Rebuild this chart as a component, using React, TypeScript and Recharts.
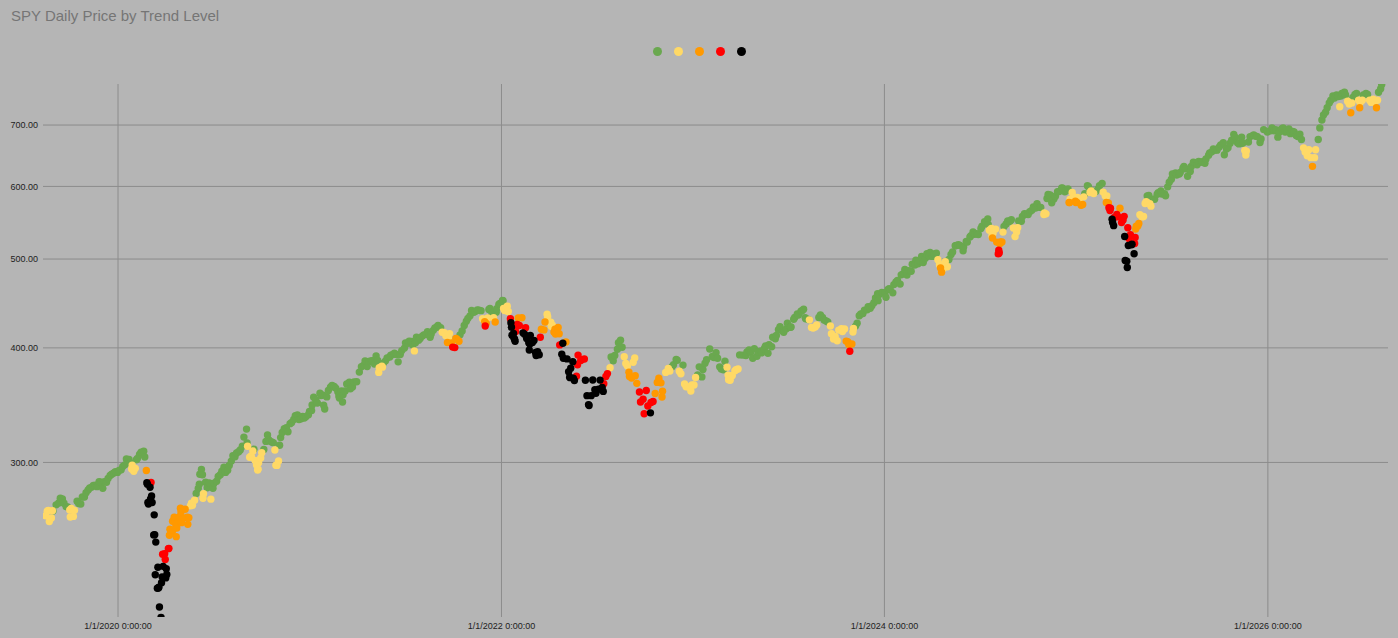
import React from "react";
import {
  ScatterChart,
  Scatter,
  XAxis,
  YAxis,
  CartesianGrid,
  Legend,
} from "recharts";

// [month-day, adjusted close, trend level 0..4]
type Row = [string, number, number];

const levelColors = ["#6aa84f", "#ffd966", "#ff9900", "#ff0000", "#000000"];
const levelNames = ["Level 0", "Level 1", "Level 2", "Level 3", "Level 4"];

const rows2019: Row[] = [
  ["08-16", 262.3, 1], ["08-19", 265.4, 1], ["08-21", 266.0, 1], ["08-23", 258.6, 1],
  ["08-27", 261.0, 1], ["08-29", 265.7, 1], ["08-30", 265.5, 0], ["09-05", 269.7, 0],
  ["09-10", 271.0, 0], ["09-13", 274.2, 0], ["09-17", 273.7, 0], ["09-20", 270.8, 0],
  ["09-24", 268.5, 0], ["09-27", 268.2, 0], ["10-01", 266.3, 1], ["10-02", 261.6, 1],
  ["10-04", 267.3, 1], ["10-08", 262.0, 1], ["10-10", 266.0, 1], ["10-15", 272.1, 0],
  ["10-18", 270.6, 0], ["10-22", 270.3, 0], ["10-25", 275.1, 0], ["10-29", 275.0, 0],
  ["11-01", 278.0, 0], ["11-05", 279.9, 0], ["11-08", 281.4, 0], ["11-12", 282.0, 0],
  ["11-15", 283.1, 0], ["11-19", 283.3, 0], ["11-22", 282.3, 0], ["11-26", 285.8, 0],
  ["11-29", 285.4, 0], ["12-03", 281.1, 0], ["12-06", 285.9, 0], ["12-10", 285.4, 0],
  ["12-13", 288.1, 0], ["12-17", 290.4, 0], ["12-20", 291.2, 0], ["12-24", 292.1, 0],
  ["12-27", 293.2, 0], ["12-31", 292.6, 0],
];

const rows2020: Row[] = [
  ["01-03", 294.0, 0], ["01-07", 294.6, 0], ["01-10", 297.0, 0], ["01-14", 298.2, 0],
  ["01-17", 302.7, 0], ["01-22", 302.3, 0], ["01-24", 299.8, 0], ["01-27", 295.1, 1],
  ["01-28", 298.0, 1], ["01-31", 293.4, 1], ["02-03", 295.6, 1], ["02-05", 302.0, 0],
  ["02-07", 303.0, 0], ["02-11", 306.0, 0], ["02-14", 307.9, 0], ["02-19", 308.6, 0],
  ["02-21", 304.1, 0], ["02-24", 294.0, 2], ["02-25", 285.1, 4], ["02-26", 284.1, 4],
  ["02-27", 271.3, 4], ["02-28", 270.2, 4], ["03-02", 281.9, 4], ["03-03", 273.8, 4],
  ["03-04", 285.3, 3], ["03-05", 275.8, 4], ["03-06", 271.3, 4], ["03-09", 250.1, 4],
  ["03-10", 263.0, 4], ["03-11", 250.2, 4], ["03-12", 226.3, 4], ["03-13", 245.6, 4],
  ["03-16", 218.7, 4], ["03-17", 230.6, 4], ["03-18", 218.9, 4], ["03-19", 219.3, 4],
  ["03-20", 208.7, 4], ["03-23", 203.3, 4], ["03-24", 221.8, 4], ["03-25", 225.1, 4],
  ["03-26", 238.2, 3], ["03-27", 231.1, 4], ["03-30", 238.6, 3], ["03-31", 235.1, 3],
  ["04-01", 224.5, 4], ["04-02", 229.7, 4], ["04-03", 226.4, 4], ["04-06", 241.6, 3],
  ["04-07", 241.8, 3], ["04-08", 249.9, 2], ["04-09", 253.7, 2], ["04-13", 251.4, 2],
  ["04-14", 258.8, 2], ["04-15", 253.3, 2], ["04-17", 261.4, 2], ["04-20", 256.8, 2],
  ["04-21", 249.0, 2], ["04-22", 254.5, 2], ["04-24", 258.1, 2], ["04-27", 261.8, 2],
  ["04-29", 267.4, 2], ["04-30", 264.9, 2], ["05-01", 257.9, 2], ["05-05", 261.0, 2],
  ["05-08", 266.7, 2], ["05-12", 261.4, 2], ["05-13", 256.8, 2], ["05-15", 261.1, 2],
  ["05-18", 269.0, 1], ["05-20", 270.8, 1], ["05-22", 269.4, 1], ["05-26", 272.8, 1],
  ["05-29", 277.5, 0], ["06-02", 281.0, 0], ["06-04", 284.0, 0], ["06-05", 291.2, 0],
  ["06-08", 294.8, 0], ["06-10", 290.9, 0], ["06-11", 274.2, 1], ["06-12", 277.4, 1],
  ["06-16", 285.4, 0], ["06-19", 281.5, 0], ["06-23", 285.0, 0], ["06-26", 273.6, 1],
  ["06-30", 281.2, 0], ["07-02", 284.8, 0], ["07-07", 286.2, 0], ["07-10", 289.6, 0],
  ["07-14", 290.9, 0], ["07-17", 293.4, 0], ["07-21", 296.4, 0], ["07-24", 292.6, 0],
  ["07-28", 294.2, 0], ["07-31", 297.8, 0], ["08-04", 301.0, 0], ["08-07", 305.1, 0],
  ["08-11", 304.3, 0], ["08-14", 307.2, 0], ["08-18", 308.2, 0], ["08-21", 309.6, 0],
  ["08-25", 312.5, 0], ["08-28", 319.7, 0], ["09-02", 326.2, 0], ["09-03", 315.0, 0],
  ["09-04", 312.4, 1], ["09-08", 303.9, 1], ["09-10", 304.5, 1], ["09-11", 304.7, 1],
  ["09-14", 308.7, 1], ["09-16", 310.2, 0], ["09-18", 301.6, 1], ["09-21", 298.2, 1],
  ["09-23", 294.3, 1], ["09-24", 295.0, 1], ["09-25", 299.8, 1], ["09-29", 303.4, 1],
  ["10-01", 307.4, 1], ["10-05", 309.9, 0], ["10-09", 316.3, 0], ["10-12", 321.4, 0],
  ["10-14", 317.7, 0], ["10-16", 316.7, 0], ["10-20", 315.9, 0], ["10-23", 315.3, 0],
  ["10-26", 309.5, 1], ["10-28", 297.9, 1], ["10-30", 297.8, 1], ["11-02", 301.1, 1],
  ["11-04", 313.2, 0], ["11-06", 319.3, 0], ["11-09", 323.4, 0], ["11-13", 326.6, 0],
  ["11-17", 327.3, 0], ["11-20", 324.1, 0], ["11-24", 330.7, 0], ["11-27", 331.7, 0],
  ["12-01", 334.2, 0], ["12-04", 337.3, 0], ["12-08", 338.1, 0], ["12-11", 334.1, 0],
  ["12-15", 334.7, 0], ["12-18", 336.7, 0], ["12-21", 335.4, 0], ["12-24", 336.5, 0],
  ["12-29", 338.2, 0], ["12-31", 341.0, 0],
];

const rows2021: Row[] = [
  ["01-04", 341.9, 0], ["01-05", 346.5, 0], ["01-08", 353.4, 0], ["01-12", 350.9, 0],
  ["01-15", 348.3, 0], ["01-20", 356.9, 0], ["01-22", 354.9, 0], ["01-26", 355.3, 0],
  ["01-27", 346.3, 0], ["01-29", 343.1, 0], ["02-02", 353.7, 0], ["02-05", 359.4, 0],
  ["02-09", 362.4, 0], ["02-12", 364.0, 0], ["02-16", 363.1, 0], ["02-19", 361.6, 0],
  ["02-23", 358.3, 0], ["02-25", 354.4, 0], ["02-26", 352.6, 0], ["03-02", 359.0, 0],
  ["03-04", 349.2, 0], ["03-05", 355.6, 0], ["03-09", 358.9, 0], ["03-12", 365.3, 0],
  ["03-17", 367.0, 0], ["03-19", 361.0, 0], ["03-23", 362.5, 0], ["03-26", 367.1, 0],
  ["03-31", 367.4, 0], ["04-05", 376.4, 0], ["04-09", 381.5, 0], ["04-13", 382.8, 0],
  ["04-16", 387.0, 0], ["04-20", 381.8, 0], ["04-23", 386.6, 0], ["04-27", 387.0, 0],
  ["04-30", 387.4, 0], ["05-04", 384.2, 0], ["05-07", 392.0, 0], ["05-10", 387.7, 0],
  ["05-12", 376.1, 1], ["05-13", 380.6, 1], ["05-18", 382.1, 1], ["05-19", 381.1, 1],
  ["05-21", 385.0, 0], ["05-25", 387.2, 0], ["05-28", 389.9, 0], ["06-02", 391.0, 0],
  ["06-04", 392.8, 0], ["06-08", 393.4, 0], ["06-11", 394.7, 0], ["06-15", 393.3, 0],
  ["06-18", 386.2, 0], ["06-22", 393.4, 0], ["06-25", 397.3, 0], ["06-30", 399.8, 0],
  ["07-02", 405.1, 0], ["07-07", 404.6, 0], ["07-09", 406.8, 0], ["07-13", 406.4, 0],
  ["07-16", 402.9, 0], ["07-19", 397.0, 1], ["07-21", 405.1, 0], ["07-23", 410.9, 0],
  ["07-27", 407.8, 0], ["07-30", 409.6, 0], ["08-03", 412.0, 0], ["08-06", 413.3, 0],
  ["08-10", 413.8, 0], ["08-13", 416.5, 0], ["08-18", 410.9, 0], ["08-20", 414.1, 0],
  ["08-24", 418.0, 0], ["08-27", 420.5, 0], ["08-31", 421.6, 0], ["09-02", 423.3, 0],
  ["09-07", 420.9, 0], ["09-10", 416.0, 1], ["09-14", 415.5, 1], ["09-17", 412.3, 1],
  ["09-20", 405.4, 2], ["09-22", 410.0, 1], ["09-24", 414.6, 1], ["09-28", 405.1, 2],
  ["09-30", 400.8, 3], ["10-04", 400.3, 3], ["10-06", 409.7, 2], ["10-08", 408.9, 2],
  ["10-12", 406.7, 2], ["10-14", 413.3, 0], ["10-18", 417.4, 0], ["10-22", 423.1, 0],
  ["10-26", 427.7, 0], ["10-29", 430.8, 0], ["11-02", 433.5, 0], ["11-05", 439.5, 0],
  ["11-09", 437.4, 0], ["11-12", 438.3, 0], ["11-16", 440.0, 0], ["11-19", 439.8, 0],
  ["11-23", 439.2, 0], ["11-26", 430.5, 1], ["11-30", 427.3, 2], ["12-01", 422.6, 3],
  ["12-03", 425.3, 2], ["12-06", 431.3, 1], ["12-08", 440.4, 0], ["12-10", 441.6, 0],
  ["12-14", 435.5, 0], ["12-16", 437.3, 0], ["12-17", 431.4, 1], ["12-20", 426.8, 2],
  ["12-22", 437.5, 0], ["12-23", 441.4, 0], ["12-27", 446.0, 0], ["12-29", 447.3, 0],
  ["12-31", 445.5, 0],
];

const rows2022: Row[] = [
  ["01-03", 450.5, 0], ["01-04", 450.3, 0], ["01-05", 441.7, 1], ["01-07", 439.5, 1],
  ["01-10", 439.0, 1], ["01-12", 444.2, 1], ["01-14", 438.2, 1], ["01-18", 430.5, 3],
  ["01-19", 426.0, 4], ["01-20", 421.3, 4], ["01-21", 413.0, 4], ["01-24", 414.8, 4],
  ["01-25", 409.7, 4], ["01-26", 408.7, 4], ["01-27", 406.7, 4], ["01-28", 416.8, 3],
  ["01-31", 424.3, 3], ["02-02", 431.3, 2], ["02-04", 423.1, 3], ["02-09", 431.5, 2],
  ["02-11", 415.4, 4], ["02-14", 414.0, 4], ["02-16", 420.7, 3], ["02-18", 409.5, 4],
  ["02-22", 405.1, 4], ["02-23", 397.9, 4], ["02-24", 403.9, 4], ["02-25", 412.8, 4],
  ["03-01", 405.5, 4], ["03-04", 407.5, 4], ["03-07", 395.5, 4], ["03-08", 392.5, 4],
  ["03-11", 396.1, 4], ["03-14", 393.2, 4], ["03-16", 410.8, 3], ["03-18", 419.2, 2],
  ["03-23", 418.5, 2], ["03-25", 426.9, 2], ["03-29", 435.2, 1], ["03-30", 432.6, 1],
  ["04-01", 427.1, 1], ["04-05", 426.7, 1], ["04-06", 422.4, 1], ["04-08", 423.4, 1],
  ["04-11", 416.2, 2], ["04-13", 419.2, 2], ["04-14", 414.1, 2], ["04-19", 421.0, 2],
  ["04-21", 414.4, 2], ["04-22", 403.0, 3], ["04-26", 393.6, 4], ["04-28", 404.7, 4],
  ["04-29", 389.8, 4], ["05-04", 405.9, 2], ["05-06", 389.1, 4], ["05-09", 376.7, 4],
  ["05-11", 371.5, 4], ["05-12", 371.2, 4], ["05-13", 380.0, 4], ["05-17", 386.3, 4],
  ["05-18", 370.7, 4], ["05-20", 368.6, 4], ["05-24", 372.6, 3], ["05-26", 383.4, 3],
  ["05-27", 392.8, 3], ["06-01", 387.5, 3], ["06-03", 388.4, 3], ["06-08", 389.0, 3],
  ["06-10", 368.8, 4], ["06-13", 354.8, 4], ["06-16", 346.9, 4], ["06-17", 346.1, 4],
  ["06-21", 354.8, 4], ["06-24", 369.0, 4], ["06-28", 360.1, 4], ["06-30", 356.9, 4],
  ["07-05", 360.6, 4], ["07-08", 368.9, 4], ["07-12", 362.2, 4], ["07-14", 358.6, 4],
  ["07-15", 365.5, 3], ["07-19", 372.3, 3], ["07-22", 375.0, 3], ["07-27", 380.6, 1],
  ["07-29", 391.0, 0], ["08-02", 387.2, 0], ["08-05", 392.4, 0], ["08-10", 398.6, 0],
  ["08-12", 405.3, 0], ["08-16", 407.8, 0], ["08-19", 400.6, 0], ["08-23", 391.3, 1],
  ["08-26", 384.6, 1], ["08-29", 382.1, 1], ["09-01", 376.2, 2], ["09-02", 372.2, 2],
  ["09-06", 370.8, 2], ["09-09", 385.9, 1], ["09-12", 390.0, 1], ["09-13", 373.0, 2],
  ["09-16", 365.9, 2], ["09-21", 358.1, 3], ["09-23", 349.2, 3], ["09-28", 351.6, 3],
  ["09-30", 339.0, 3], ["10-04", 359.4, 3], ["10-07", 345.7, 3], ["10-12", 339.8, 4],
  ["10-13", 348.8, 3], ["10-17", 349.6, 3], ["10-21", 356.7, 2], ["10-25", 366.8, 2],
  ["10-28", 370.7, 2], ["11-01", 366.4, 2], ["11-03", 353.6, 2], ["11-04", 358.7, 2],
  ["11-10", 376.1, 1], ["11-15", 379.8, 1], ["11-18", 377.4, 1], ["11-22", 381.5, 0],
  ["11-25", 383.4, 0], ["11-30", 388.5, 0], ["12-02", 387.8, 0], ["12-06", 377.3, 1],
  ["12-09", 374.8, 1], ["12-13", 383.1, 0], ["12-16", 365.3, 1], ["12-19", 362.7, 1],
  ["12-22", 362.8, 1], ["12-28", 359.0, 1], ["12-30", 364.5, 1],
];

const rows2023: Row[] = [
  ["01-03", 364.4, 1], ["01-06", 371.4, 1], ["01-10", 373.8, 0], ["01-13", 381.4, 0],
  ["01-18", 371.9, 0], ["01-20", 378.9, 0], ["01-24", 384.9, 0], ["01-27", 388.2, 0],
  ["02-02", 398.9, 0], ["02-07", 391.5, 0], ["02-10", 390.5, 0], ["02-14", 395.1, 0],
  ["02-17", 389.7, 0], ["02-21", 381.4, 0], ["02-24", 379.3, 0], ["02-28", 378.6, 0],
  ["03-03", 386.8, 0], ["03-07", 381.1, 1], ["03-09", 373.6, 1], ["03-10", 369.3, 1],
  ["03-13", 368.8, 1], ["03-15", 372.5, 1], ["03-17", 373.2, 1], ["03-22", 377.6, 1],
  ["03-24", 378.7, 1], ["03-28", 379.4, 1], ["03-31", 393.0, 0], ["04-06", 392.8, 0],
  ["04-12", 392.4, 0], ["04-14", 396.0, 0], ["04-18", 398.0, 0], ["04-21", 395.7, 0],
  ["04-25", 389.8, 0], ["04-28", 399.3, 0], ["05-03", 391.7, 0], ["05-05", 396.1, 0],
  ["05-10", 396.8, 0], ["05-12", 395.1, 0], ["05-17", 399.1, 0], ["05-19", 401.9, 0],
  ["05-24", 394.6, 0], ["05-26", 403.2, 0], ["05-31", 401.1, 0], ["06-02", 410.8, 0],
  ["06-07", 409.2, 0], ["06-09", 412.7, 0], ["06-13", 418.7, 0], ["06-16", 421.9, 0],
  ["06-21", 417.3, 0], ["06-23", 415.9, 0], ["06-28", 419.6, 0], ["06-30", 425.5, 0],
  ["07-06", 421.2, 0], ["07-07", 421.6, 0], ["07-12", 429.8, 0], ["07-14", 431.8, 0],
  ["07-19", 435.7, 0], ["07-21", 434.5, 0], ["07-26", 438.5, 0], ["07-28", 439.1, 0],
  ["07-31", 440.8, 0], ["08-03", 431.6, 0], ["08-04", 430.3, 0], ["08-09", 429.5, 0],
  ["08-11", 429.2, 1], ["08-15", 421.1, 1], ["08-18", 420.4, 1], ["08-22", 421.5, 1],
  ["08-25", 423.7, 1], ["08-29", 431.8, 0], ["09-01", 434.5, 0], ["09-05", 431.9, 0],
  ["09-08", 429.0, 0], ["09-12", 428.0, 0], ["09-15", 427.0, 0], ["09-20", 422.6, 1],
  ["09-22", 414.5, 1], ["09-26", 409.1, 1], ["09-29", 411.7, 1], ["10-03", 407.3, 1],
  ["10-06", 418.3, 1], ["10-11", 419.8, 1], ["10-13", 416.8, 1], ["10-17", 419.5, 1],
  ["10-20", 406.9, 2], ["10-23", 406.2, 2], ["10-25", 403.4, 2], ["10-27", 396.7, 3],
  ["10-31", 404.0, 2], ["11-02", 416.2, 1], ["11-03", 419.9, 1], ["11-07", 422.5, 0],
  ["11-10", 425.6, 0], ["11-14", 433.6, 0], ["11-17", 435.5, 0], ["11-21", 436.1, 0],
  ["11-24", 439.8, 0], ["11-29", 440.1, 0], ["12-01", 443.5, 0], ["12-05", 441.9, 0],
  ["12-08", 444.6, 0], ["12-12", 448.0, 0], ["12-15", 453.4, 0], ["12-19", 458.2, 0],
  ["12-20", 450.4, 0], ["12-22", 457.5, 0], ["12-27", 459.8, 0], ["12-29", 459.2, 0],
];

const rows2024: Row[] = [
  ["01-02", 459.4, 0], ["01-04", 454.2, 0], ["01-08", 463.1, 0], ["01-10", 464.2, 0],
  ["01-12", 463.3, 0], ["01-17", 459.3, 0], ["01-19", 468.9, 0], ["01-23", 471.9, 0],
  ["01-26", 473.8, 0], ["01-31", 469.5, 0], ["02-02", 480.5, 0], ["02-06", 482.0, 0],
  ["02-09", 487.2, 0], ["02-13", 480.2, 0], ["02-16", 485.5, 0], ["02-21", 484.8, 0],
  ["02-23", 493.6, 0], ["02-28", 492.5, 0], ["03-01", 498.5, 0], ["03-05", 494.0, 0],
  ["03-08", 497.4, 0], ["03-12", 503.2, 0], ["03-15", 495.6, 0], ["03-19", 500.9, 0],
  ["03-22", 506.6, 0], ["03-26", 503.6, 0], ["03-28", 508.4, 0], ["04-02", 503.3, 0],
  ["04-05", 506.5, 0], ["04-09", 507.4, 0], ["04-12", 499.1, 1], ["04-15", 492.8, 1],
  ["04-16", 492.6, 1], ["04-17", 489.0, 2], ["04-19", 483.8, 2], ["04-22", 488.2, 1],
  ["04-24", 493.9, 1], ["04-26", 496.6, 1], ["04-30", 490.4, 1], ["05-03", 499.5, 0],
  ["05-07", 505.8, 0], ["05-10", 508.9, 0], ["05-15", 517.0, 0], ["05-17", 517.3, 0],
  ["05-21", 518.4, 0], ["05-24", 517.3, 0], ["05-30", 510.4, 0], ["05-31", 515.2, 0],
  ["06-05", 522.5, 0], ["06-07", 521.7, 0], ["06-12", 528.6, 0], ["06-14", 530.3, 0],
  ["06-18", 535.1, 0], ["06-21", 532.0, 0], ["06-25", 533.0, 0], ["06-28", 531.7, 0],
  ["07-03", 539.9, 0], ["07-05", 543.0, 0], ["07-10", 549.3, 0], ["07-12", 548.2, 0],
  ["07-16", 553.0, 0], ["07-17", 545.1, 0], ["07-19", 537.5, 1], ["07-23", 540.0, 1],
  ["07-24", 529.9, 1], ["07-25", 527.1, 2], ["07-26", 533.0, 1], ["07-31", 539.0, 1],
  ["08-02", 521.7, 2], ["08-05", 506.5, 3], ["08-06", 511.2, 3], ["08-07", 507.8, 3],
  ["08-08", 519.5, 2], ["08-09", 521.8, 2], ["08-12", 522.0, 2], ["08-14", 535.0, 1],
  ["08-16", 542.7, 0], ["08-20", 546.0, 0], ["08-23", 550.3, 0], ["08-27", 549.3, 0],
  ["08-30", 551.8, 0], ["09-03", 540.5, 1], ["09-06", 529.0, 1], ["09-09", 535.0, 1],
  ["09-11", 541.0, 1], ["09-13", 550.2, 0], ["09-18", 549.6, 0], ["09-20", 556.3, 0],
  ["09-24", 560.2, 0], ["09-27", 559.5, 0], ["10-01", 559.0, 0], ["10-04", 563.2, 0],
  ["10-08", 565.0, 0], ["10-11", 569.7, 0], ["10-15", 568.2, 0], ["10-18", 574.6, 0],
  ["10-23", 569.3, 0], ["10-25", 569.2, 0], ["10-31", 559.0, 1], ["11-01", 561.3, 1],
  ["11-04", 560.1, 1], ["11-06", 582.0, 0], ["11-08", 588.0, 0], ["11-12", 587.4, 0],
  ["11-15", 575.8, 0], ["11-19", 581.4, 0], ["11-22", 585.4, 0], ["11-26", 592.0, 0],
  ["11-29", 592.3, 0], ["12-04", 597.7, 0], ["12-06", 597.5, 0], ["12-10", 592.0, 0],
  ["12-13", 593.9, 0], ["12-16", 596.4, 0], ["12-18", 576.3, 2], ["12-19", 576.1, 2],
  ["12-20", 581.1, 1], ["12-24", 591.1, 1], ["12-27", 584.9, 1], ["12-30", 578.2, 2],
  ["12-31", 576.1, 2],
];

const rows2025: Row[] = [
  ["01-02", 576.5, 2], ["01-03", 583.7, 1], ["01-07", 580.4, 1], ["01-10", 572.4, 2],
  ["01-13", 573.3, 2], ["01-15", 584.5, 1], ["01-17", 589.2, 0], ["01-22", 601.2, 0],
  ["01-24", 599.5, 0], ["01-27", 591.0, 1], ["01-29", 593.4, 1], ["01-31", 593.4, 0],
  ["02-03", 589.4, 1], ["02-07", 592.4, 0], ["02-11", 596.0, 0], ["02-14", 601.2, 0],
  ["02-19", 604.4, 0], ["02-21", 591.5, 1], ["02-25", 585.9, 1], ["02-27", 576.4, 2],
  ["02-28", 585.9, 1], ["03-03", 575.6, 2], ["03-04", 568.8, 3], ["03-06", 564.7, 3],
  ["03-07", 567.9, 3], ["03-10", 552.7, 4], ["03-11", 548.1, 4], ["03-13", 543.7, 4],
  ["03-14", 554.9, 3], ["03-19", 559.2, 3], ["03-21", 556.1, 3], ["03-25", 568.0, 2],
  ["03-28", 547.9, 3], ["03-31", 551.6, 3], ["04-02", 556.6, 3], ["04-03", 529.2, 4],
  ["04-04", 498.2, 4], ["04-07", 497.3, 4], ["04-08", 489.5, 4], ["04-09", 540.9, 3],
  ["04-10", 517.2, 4], ["04-11", 526.5, 3], ["04-14", 531.6, 3], ["04-16", 518.3, 4],
  ["04-17", 519.0, 4], ["04-21", 506.7, 4], ["04-22", 519.9, 3], ["04-23", 527.9, 3],
  ["04-24", 539.0, 2], ["04-25", 542.9, 2], ["04-28", 543.1, 2], ["04-30", 546.8, 2],
  ["05-02", 558.8, 1], ["05-06", 555.8, 1], ["05-09", 556.4, 1], ["05-12", 574.8, 1],
  ["05-14", 577.5, 1], ["05-16", 585.9, 0], ["05-19", 586.6, 0], ["05-21", 574.7, 1],
  ["05-23", 571.0, 1], ["05-28", 581.0, 0], ["05-30", 581.1, 0], ["06-04", 588.3, 0],
  ["06-06", 590.7, 0], ["06-11", 593.4, 0], ["06-13", 588.6, 0], ["06-18", 589.0, 0],
  ["06-20", 586.0, 0], ["06-24", 599.4, 0], ["06-27", 606.3, 0], ["07-01", 611.0, 0],
  ["07-03", 619.1, 0], ["07-09", 620.6, 0], ["07-11", 617.4, 0], ["07-16", 619.0, 0],
  ["07-18", 621.3, 0], ["07-23", 628.0, 0], ["07-25", 630.7, 0], ["07-29", 627.0, 0],
  ["08-01", 615.5, 0], ["08-06", 623.0, 0], ["08-08", 630.8, 0], ["08-12", 637.5, 0],
  ["08-15", 637.0, 0], ["08-19", 633.6, 0], ["08-22", 638.9, 0], ["08-26", 637.4, 0],
  ["08-29", 638.6, 0], ["09-03", 636.0, 0], ["09-05", 642.7, 0], ["09-10", 649.0, 0],
  ["09-12", 652.8, 0], ["09-16", 654.4, 0], ["09-19", 659.1, 0], ["09-23", 657.4, 0],
  ["09-26", 657.2, 0], ["09-30", 662.3, 0], ["10-03", 665.9, 0], ["10-08", 669.8, 0],
  ["10-10", 649.8, 0], ["10-14", 659.0, 0], ["10-17", 661.1, 0], ["10-21", 668.8, 0],
  ["10-24", 673.9, 0], ["10-28", 683.6, 0], ["10-31", 678.7, 0], ["11-04", 669.5, 0],
  ["11-07", 667.6, 0], ["11-12", 679.0, 0], ["11-14", 668.6, 0], ["11-18", 656.8, 1],
  ["11-20", 649.3, 1], ["11-21", 655.7, 1], ["11-25", 670.8, 0], ["11-28", 680.0, 0],
  ["12-03", 681.7, 0], ["12-05", 683.0, 0], ["12-09", 680.5, 0], ["12-12", 680.0, 0],
  ["12-17", 670.0, 0], ["12-19", 676.0, 0], ["12-24", 692.0, 0], ["12-31", 688.0, 0],
];

const rows2026: Row[] = [
  ["01-06", 690, 0], ["01-09", 695, 0], ["01-13", 690, 0], ["01-16", 692, 0],
  ["01-20", 679, 0], ["01-23", 688, 0], ["01-27", 693, 0], ["01-30", 695, 0],
  ["02-03", 688, 0], ["02-06", 690, 0], ["02-10", 693, 0], ["02-13", 685, 0],
  ["02-17", 689, 0], ["02-20", 688, 0], ["02-24", 682, 0], ["02-27", 680, 0],
  ["03-03", 684, 0], ["03-06", 675, 0], ["03-10", 661, 1], ["03-13", 654, 1],
  ["03-17", 648, 1], ["03-20", 658, 1], ["03-24", 645, 1], ["03-27", 631, 2],
  ["03-31", 645, 1], ["04-02", 658, 1], ["04-07", 675, 0], ["04-10", 695, 0],
  ["04-14", 709, 0], ["04-17", 718, 0], ["04-21", 723, 0], ["04-24", 731, 0],
  ["04-28", 740, 0], ["05-01", 745, 0], ["05-05", 753, 0], ["05-08", 749, 0],
  ["05-12", 755, 0], ["05-15", 752, 0], ["05-18", 733, 1], ["05-20", 753, 0],
  ["05-22", 758, 0], ["05-27", 760, 0], ["05-29", 755, 0], ["06-02", 743, 1],
  ["06-05", 738, 1], ["06-08", 722, 2], ["06-10", 740, 1], ["06-12", 750, 0],
  ["06-16", 756, 0], ["06-19", 758, 0], ["06-23", 745, 1], ["06-25", 731, 2],
  ["06-26", 741, 1], ["06-30", 745, 1], ["07-02", 755, 0], ["07-07", 758, 0],
  ["07-10", 756, 0], ["07-14", 745, 1], ["07-17", 741, 1], ["07-21", 747, 1],
  ["07-24", 743, 1], ["07-27", 731, 2], ["07-29", 745, 1], ["07-31", 760, 0],
  ["08-04", 767, 0], ["08-06", 775, 0],
];

const yearRows: [number, Row[]][] = [
  [2019, rows2019], [2020, rows2020], [2021, rows2021], [2022, rows2022],
  [2023, rows2023], [2024, rows2024], [2025, rows2025], [2026, rows2026],
];

const xTicks = [2020, 2022, 2024, 2026].map((y) => Date.UTC(y, 0, 1));
const yTicks = [300, 400, 500, 600, 700];

const points = yearRows.flatMap(([year, rows]) =>
  rows.map(([md, price, level]) => ({
    t: Date.UTC(year, Number(md.slice(0, 2)) - 1, Number(md.slice(3))),
    price,
    level,
  }))
);

const formatDate = (t: number) => {
  const d = new Date(t);
  return `${d.getUTCMonth() + 1}/${d.getUTCDate()}/${d.getUTCFullYear()} 0:00:00`;
};

const renderLegend = () => (
  <div style={{ display: "flex", justifyContent: "center", gap: 12 }}>
    {levelColors.map((c) => (
      <span
        key={c}
        style={{ width: 9, height: 9, borderRadius: "50%", background: c, display: "inline-block" }}
      />
    ))}
  </div>
);

const App = () => {
  return (
    <div
      style={{
        position: "absolute",
        top: 0,
        left: 0,
        width: 1398,
        height: 638,
        background: "#b5b5b5",
        fontFamily: "Arial, 'Liberation Sans', sans-serif",
      }}
    >
      <div style={{ position: "absolute", top: 7, left: 11, fontSize: 15, color: "#757575" }}>
        SPY Daily Price by Trend Level
      </div>
      <ScatterChart width={1398} height={638} margin={{ top: 84, right: 10, bottom: 0, left: 0 }}>
        {/* syncWithTicks: lines only at the ticks, no frame at the plot edges */}
        <CartesianGrid stroke="#8c8c8c" strokeWidth={1} syncWithTicks />
        <XAxis
          type="number"
          dataKey="t"
          domain={[Date.UTC(2019, 7, 11), Date.UTC(2026, 7, 18)]}
          ticks={xTicks}
          tickFormatter={formatDate}
          allowDataOverflow
          axisLine={false}
          tickLine={false}
          tickSize={4}
          tickMargin={2}
          height={21}
          tick={{ fontSize: 9, fill: "#222" }}
        />
        <YAxis
          type="number"
          dataKey="price"
          scale="log"
          domain={[203.5, 776]}
          ticks={yTicks}
          tickFormatter={(v: number) => v.toFixed(2)}
          allowDataOverflow
          axisLine={false}
          tickLine={false}
          tickSize={3}
          tickMargin={2}
          width={43}
          tick={{ fontSize: 9, fill: "#222" }}
        />
        <Legend
          layout="horizontal"
          verticalAlign="middle"
          align="center"
          content={renderLegend}
          wrapperStyle={{ top: 47, left: 0, width: 1398 }}
        />
        {levelColors.map((color, i) => (
          <Scatter
            key={levelNames[i]}
            name={levelNames[i]}
            data={points.filter((p) => p.level === i)}
            fill={color}
            isAnimationActive={false}
            shape={(p: any) => <circle cx={p.cx} cy={p.cy} r={3.7} fill={color} />}
          />
        ))}
      </ScatterChart>
    </div>
  );
};

export default App;
